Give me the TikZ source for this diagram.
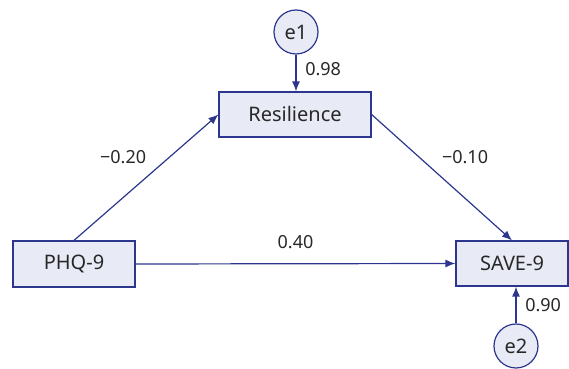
\documentclass[tikz,border=0pt]{standalone}
\usepackage{fontspec}
\setmainfont{Noto Sans}
\usepackage{xcolor}
\usepackage{tikz}
\usetikzlibrary{arrows.meta}
\definecolor{pathblue}{RGB}{44,54,142}
\definecolor{boxfill}{RGB}{232,235,245}
\definecolor{txtgray}{RGB}{40,40,40}

\begin{document}
\begin{tikzpicture}[
	x=0.5pt, y=-0.5pt,
	varbox/.style={font=\fontsize{10}{12}\selectfont, draw=pathblue, fill=boxfill, text=txtgray, line width=0.6pt, inner sep=0, align=center},
	errcirc/.style={circle, draw=pathblue, fill=boxfill, text=txtgray, font=\fontsize{10}{12}\selectfont, minimum size=22pt, inner sep=0, line width=0.6pt},
	coef/.style={font=\fontsize{9}{11}\selectfont, text=txtgray},
	path/.style={draw=pathblue, line width=0.6pt, -{Latex[length=5pt,width=4pt]}}
]
\useasboundingbox (0,0) rectangle (569,369);

\node[varbox, minimum width=61pt, minimum height=23pt] (phq) at (74,264) {PHQ-9};
\node[varbox, minimum width=76pt, minimum height=22.5pt] (res) at (295,114.5) {Resilience};
\node[varbox, minimum width=56pt, minimum height=22.5pt] (save) at (512,263.5) {SAVE-9};
\node[errcirc] (e1) at (296,32) {e1};
\node[errcirc] (e2) at (516,346) {e2};

\draw[path] (phq.north) -- (res.west) node[coef, pos=0.55, above left] {−0.20};
\draw[path] (res.east) -- (save.north) node[coef, pos=0.45, above right] {−0.10};
\draw[path] (phq.east) -- (save.west) node[coef, midway, above=4pt] {0.40};
\draw[path] (e1.south) -- (e1 |- res.north) node[coef, pos=0.4, right=1pt] {0.98};
\draw[path] (e2.north) -- (e2 |- save.south) node[coef, midway, right=1pt] {0.90};
\end{tikzpicture}
\end{document}
